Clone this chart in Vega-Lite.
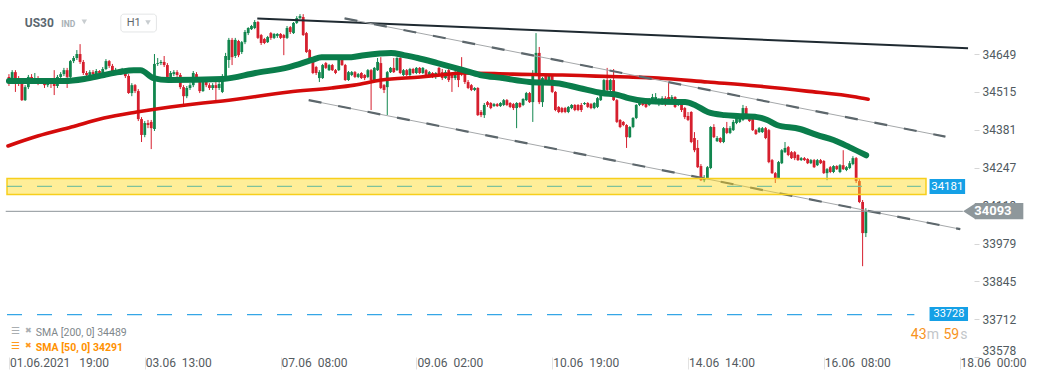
{
"$schema":"https://vega.github.io/schema/vega-lite/v6.json",
"width":974,"height":357,"padding":{"left":0,"top":0,"right":67,"bottom":23},"autosize":{"type":"none"},"background":"#ffffff",
"config":{"view":{"stroke":null},"font":"Roboto"},
"datasets":{
"candles":[
{"i":0,"o":34568,"h":34578,"l":34536,"c":34546},{"i":1,"o":34546,"h":34592,"l":34543,"c":34585},{"i":2,"o":34585,"h":34592,"l":34515,"c":34564},{"i":3,"o":34564,"h":34571,"l":34536,"c":34557},{"i":4,"o":34554,"h":34561,"l":34483,"c":34486},{"i":5,"o":34486,"h":34539,"l":34483,"c":34532},{"i":6,"o":34532,"h":34575,"l":34525,"c":34568},{"i":7,"o":34568,"h":34578,"l":34543,"c":34550},{"i":8,"o":34550,"h":34582,"l":34546,"c":34564},{"i":9,"o":34564,"h":34571,"l":34539,"c":34550},
{"i":10,"o":34550,"h":34564,"l":34543,"c":34557},{"i":11,"o":34557,"h":34564,"l":34529,"c":34539},{"i":12,"o":34539,"h":34557,"l":34532,"c":34546},{"i":13,"o":34546,"h":34557,"l":34529,"c":34543},{"i":14,"o":34543,"h":34592,"l":34504,"c":34536},{"i":15,"o":34536,"h":34575,"l":34529,"c":34568},{"i":16,"o":34568,"h":34585,"l":34557,"c":34578},{"i":17,"o":34578,"h":34600,"l":34571,"c":34592},{"i":18,"o":34592,"h":34600,"l":34529,"c":34568},{"i":19,"o":34568,"h":34628,"l":34561,"c":34624},
{"i":20,"o":34624,"h":34642,"l":34617,"c":34635},{"i":21,"o":34635,"h":34663,"l":34628,"c":34649},{"i":22,"o":34649,"h":34684,"l":34614,"c":34621},{"i":23,"o":34621,"h":34628,"l":34575,"c":34582},{"i":24,"o":34582,"h":34589,"l":34568,"c":34575},{"i":25,"o":34575,"h":34592,"l":34568,"c":34585},{"i":26,"o":34585,"h":34592,"l":34571,"c":34578},{"i":27,"o":34578,"h":34596,"l":34571,"c":34589},{"i":28,"o":34589,"h":34592,"l":34575,"c":34582},{"i":29,"o":34582,"h":34603,"l":34578,"c":34596},
{"i":30,"o":34596,"h":34631,"l":34592,"c":34624},{"i":31,"o":34624,"h":34628,"l":34600,"c":34607},{"i":32,"o":34607,"h":34614,"l":34575,"c":34582},{"i":33,"o":34582,"h":34600,"l":34575,"c":34592},{"i":34,"o":34592,"h":34596,"l":34578,"c":34585},{"i":35,"o":34585,"h":34600,"l":34582,"c":34592},{"i":36,"o":34589,"h":34596,"l":34564,"c":34571},{"i":37,"o":34571,"h":34578,"l":34508,"c":34511},{"i":38,"o":34511,"h":34546,"l":34500,"c":34539},{"i":39,"o":34539,"h":34543,"l":34511,"c":34518},
{"i":40,"o":34518,"h":34525,"l":34412,"c":34419},{"i":41,"o":34419,"h":34426,"l":34338,"c":34363},{"i":42,"o":34363,"h":34412,"l":34355,"c":34405},{"i":43,"o":34405,"h":34416,"l":34387,"c":34398},{"i":44,"o":34409,"h":34416,"l":34313,"c":34387},{"i":45,"o":34384,"h":34649,"l":34377,"c":34614},{"i":46,"o":34614,"h":34635,"l":34607,"c":34617},{"i":47,"o":34617,"h":34628,"l":34610,"c":34621},{"i":48,"o":34621,"h":34642,"l":34603,"c":34610},{"i":49,"o":34610,"h":34617,"l":34561,"c":34568},
{"i":50,"o":34568,"h":34589,"l":34561,"c":34582},{"i":51,"o":34578,"h":34592,"l":34571,"c":34585},{"i":52,"o":34585,"h":34592,"l":34568,"c":34575},{"i":53,"o":34575,"h":34582,"l":34525,"c":34532},{"i":54,"o":34532,"h":34539,"l":34469,"c":34500},{"i":55,"o":34500,"h":34536,"l":34493,"c":34529},{"i":56,"o":34529,"h":34546,"l":34522,"c":34539},{"i":57,"o":34539,"h":34589,"l":34532,"c":34582},{"i":58,"o":34578,"h":34585,"l":34550,"c":34557},{"i":59,"o":34557,"h":34564,"l":34511,"c":34518},
{"i":60,"o":34518,"h":34557,"l":34515,"c":34550},{"i":61,"o":34557,"h":34564,"l":34532,"c":34539},{"i":62,"o":34539,"h":34546,"l":34522,"c":34529},{"i":63,"o":34529,"h":34546,"l":34522,"c":34539},{"i":64,"o":34539,"h":34550,"l":34476,"c":34529},{"i":65,"o":34529,"h":34557,"l":34522,"c":34543},{"i":66,"o":34515,"h":34578,"l":34511,"c":34571},{"i":67,"o":34571,"h":34653,"l":34564,"c":34642},{"i":68,"o":34628,"h":34706,"l":34600,"c":34699},{"i":69,"o":34699,"h":34706,"l":34610,"c":34638},
{"i":70,"o":34642,"h":34706,"l":34635,"c":34699},{"i":71,"o":34695,"h":34699,"l":34638,"c":34645},{"i":72,"o":34656,"h":34695,"l":34649,"c":34691},{"i":73,"o":34691,"h":34734,"l":34684,"c":34727},{"i":74,"o":34723,"h":34744,"l":34716,"c":34741},{"i":75,"o":34737,"h":34752,"l":34734,"c":34748},{"i":76,"o":34741,"h":34769,"l":34737,"c":34762},{"i":77,"o":34762,"h":34766,"l":34702,"c":34706},{"i":78,"o":34716,"h":34720,"l":34681,"c":34688},{"i":79,"o":34702,"h":34706,"l":34684,"c":34688},
{"i":80,"o":34691,"h":34713,"l":34688,"c":34709},{"i":81,"o":34723,"h":34727,"l":34699,"c":34706},{"i":82,"o":34706,"h":34723,"l":34702,"c":34720},{"i":83,"o":34713,"h":34723,"l":34706,"c":34720},{"i":84,"o":34720,"h":34723,"l":34702,"c":34706},{"i":85,"o":34716,"h":34720,"l":34645,"c":34706},{"i":86,"o":34706,"h":34748,"l":34702,"c":34741},{"i":87,"o":34744,"h":34748,"l":34720,"c":34727},{"i":88,"o":34723,"h":34762,"l":34720,"c":34759},{"i":89,"o":34759,"h":34783,"l":34755,"c":34776},
{"i":90,"o":34776,"h":34790,"l":34773,"c":34783},{"i":91,"o":34780,"h":34790,"l":34713,"c":34716},{"i":92,"o":34723,"h":34727,"l":34653,"c":34656},{"i":93,"o":34663,"h":34667,"l":34631,"c":34635},{"i":94,"o":34635,"h":34638,"l":34578,"c":34582},{"i":95,"o":34603,"h":34607,"l":34575,"c":34582},{"i":96,"o":34564,"h":34592,"l":34550,"c":34585},{"i":97,"o":34564,"h":34614,"l":34561,"c":34610},{"i":98,"o":34617,"h":34621,"l":34596,"c":34600},{"i":99,"o":34592,"h":34614,"l":34589,"c":34610},
{"i":100,"o":34610,"h":34614,"l":34589,"c":34592},{"i":101,"o":34592,"h":34596,"l":34578,"c":34582},{"i":102,"o":34592,"h":34635,"l":34589,"c":34631},{"i":103,"o":34628,"h":34645,"l":34607,"c":34610},{"i":104,"o":34610,"h":34614,"l":34554,"c":34557},{"i":105,"o":34557,"h":34589,"l":34554,"c":34585},{"i":106,"o":34575,"h":34589,"l":34571,"c":34585},{"i":107,"o":34585,"h":34589,"l":34564,"c":34568},{"i":108,"o":34568,"h":34582,"l":34564,"c":34578},{"i":109,"o":34582,"h":34585,"l":34561,"c":34564},
{"i":110,"o":34575,"h":34578,"l":34557,"c":34564},{"i":111,"o":34568,"h":34596,"l":34564,"c":34592},{"i":112,"o":34592,"h":34596,"l":34451,"c":34557},{"i":113,"o":34557,"h":34603,"l":34554,"c":34600},{"i":114,"o":34592,"h":34635,"l":34589,"c":34621},{"i":115,"o":34617,"h":34638,"l":34525,"c":34529},{"i":116,"o":34539,"h":34543,"l":34511,"c":34522},{"i":117,"o":34532,"h":34589,"l":34433,"c":34585},{"i":118,"o":34585,"h":34603,"l":34582,"c":34600},{"i":119,"o":34600,"h":34635,"l":34582,"c":34585},
{"i":120,"o":34592,"h":34638,"l":34589,"c":34635},{"i":121,"o":34635,"h":34638,"l":34578,"c":34582},{"i":122,"o":34575,"h":34596,"l":34571,"c":34592},{"i":123,"o":34592,"h":34596,"l":34571,"c":34575},{"i":124,"o":34575,"h":34600,"l":34571,"c":34596},{"i":125,"o":34596,"h":34600,"l":34578,"c":34582},{"i":126,"o":34582,"h":34603,"l":34578,"c":34600},{"i":127,"o":34600,"h":34603,"l":34578,"c":34582},{"i":128,"o":34582,"h":34603,"l":34578,"c":34600},{"i":129,"o":34592,"h":34596,"l":34571,"c":34575},
{"i":130,"o":34575,"h":34589,"l":34571,"c":34585},{"i":131,"o":34582,"h":34585,"l":34564,"c":34568},{"i":132,"o":34568,"h":34585,"l":34561,"c":34582},{"i":133,"o":34600,"h":34603,"l":34571,"c":34575},{"i":134,"o":34585,"h":34596,"l":34557,"c":34564},{"i":135,"o":34564,"h":34592,"l":34561,"c":34585},{"i":136,"o":34592,"h":34614,"l":34550,"c":34557},{"i":137,"o":34575,"h":34582,"l":34515,"c":34564},{"i":138,"o":34564,"h":34592,"l":34557,"c":34585},{"i":139,"o":34592,"h":34600,"l":34532,"c":34557},
{"i":140,"o":34585,"h":34638,"l":34571,"c":34578},{"i":141,"o":34582,"h":34585,"l":34543,"c":34550},{"i":142,"o":34550,"h":34557,"l":34525,"c":34529},{"i":143,"o":34539,"h":34543,"l":34518,"c":34522},{"i":144,"o":34522,"h":34532,"l":34518,"c":34529},{"i":145,"o":34529,"h":34532,"l":34430,"c":34433},{"i":146,"o":34444,"h":34451,"l":34426,"c":34433},{"i":147,"o":34433,"h":34476,"l":34423,"c":34469},{"i":148,"o":34479,"h":34483,"l":34462,"c":34469},{"i":149,"o":34476,"h":34479,"l":34454,"c":34458},
{"i":150,"o":34465,"h":34476,"l":34462,"c":34472},{"i":151,"o":34472,"h":34476,"l":34462,"c":34465},{"i":152,"o":34465,"h":34479,"l":34462,"c":34476},{"i":153,"o":34469,"h":34490,"l":34465,"c":34486},{"i":154,"o":34486,"h":34490,"l":34465,"c":34469},{"i":155,"o":34476,"h":34479,"l":34458,"c":34462},{"i":156,"o":34472,"h":34476,"l":34451,"c":34458},{"i":157,"o":34458,"h":34479,"l":34387,"c":34476},{"i":158,"o":34476,"h":34479,"l":34458,"c":34462},{"i":159,"o":34469,"h":34493,"l":34465,"c":34490},
{"i":160,"o":34486,"h":34515,"l":34483,"c":34511},{"i":161,"o":34511,"h":34515,"l":34476,"c":34479},{"i":162,"o":34479,"h":34592,"l":34409,"c":34582},{"i":163,"o":34582,"h":34723,"l":34575,"c":34653},{"i":164,"o":34653,"h":34674,"l":34472,"c":34479},{"i":165,"o":34479,"h":34568,"l":34462,"c":34564},{"i":166,"o":34575,"h":34578,"l":34550,"c":34557},{"i":167,"o":34557,"h":34578,"l":34554,"c":34575},{"i":168,"o":34575,"h":34578,"l":34511,"c":34515},{"i":169,"o":34515,"h":34518,"l":34447,"c":34451},
{"i":170,"o":34462,"h":34465,"l":34440,"c":34444},{"i":171,"o":34458,"h":34462,"l":34440,"c":34444},{"i":172,"o":34458,"h":34462,"l":34440,"c":34444},{"i":173,"o":34444,"h":34465,"l":34440,"c":34462},{"i":174,"o":34458,"h":34472,"l":34454,"c":34469},{"i":175,"o":34469,"h":34472,"l":34447,"c":34451},{"i":176,"o":34469,"h":34472,"l":34447,"c":34451},{"i":177,"o":34469,"h":34476,"l":34444,"c":34451},{"i":178,"o":34472,"h":34479,"l":34469,"c":34476},{"i":179,"o":34476,"h":34479,"l":34458,"c":34462},
{"i":180,"o":34472,"h":34476,"l":34454,"c":34458},{"i":181,"o":34458,"h":34479,"l":34454,"c":34476},{"i":182,"o":34462,"h":34497,"l":34458,"c":34493},{"i":183,"o":34486,"h":34518,"l":34483,"c":34515},{"i":184,"o":34515,"h":34561,"l":34511,"c":34557},{"i":185,"o":34557,"h":34600,"l":34518,"c":34522},{"i":186,"o":34522,"h":34561,"l":34518,"c":34557},{"i":187,"o":34557,"h":34596,"l":34483,"c":34486},{"i":188,"o":34486,"h":34490,"l":34405,"c":34409},{"i":189,"o":34416,"h":34419,"l":34387,"c":34391},
{"i":190,"o":34409,"h":34412,"l":34394,"c":34398},{"i":191,"o":34398,"h":34401,"l":34317,"c":34355},{"i":192,"o":34355,"h":34394,"l":34352,"c":34391},{"i":193,"o":34391,"h":34426,"l":34387,"c":34423},{"i":194,"o":34423,"h":34472,"l":34419,"c":34469},{"i":195,"o":34469,"h":34490,"l":34465,"c":34486},{"i":196,"o":34486,"h":34490,"l":34465,"c":34469},{"i":197,"o":34479,"h":34483,"l":34458,"c":34462},{"i":198,"o":34469,"h":34493,"l":34465,"c":34490},{"i":199,"o":34486,"h":34508,"l":34483,"c":34497},
{"i":200,"o":34476,"h":34511,"l":34472,"c":34497},{"i":201,"o":34472,"h":34493,"l":34465,"c":34486},{"i":202,"o":34476,"h":34500,"l":34469,"c":34493},{"i":203,"o":34493,"h":34500,"l":34465,"c":34472},{"i":204,"o":34497,"h":34546,"l":34479,"c":34486},{"i":205,"o":34483,"h":34504,"l":34476,"c":34497},{"i":206,"o":34497,"h":34500,"l":34458,"c":34462},{"i":207,"o":34469,"h":34486,"l":34465,"c":34479},{"i":208,"o":34472,"h":34479,"l":34444,"c":34451},{"i":209,"o":34458,"h":34462,"l":34419,"c":34426},
{"i":210,"o":34430,"h":34444,"l":34412,"c":34416},{"i":211,"o":34444,"h":34447,"l":34334,"c":34338},{"i":212,"o":34352,"h":34373,"l":34302,"c":34309},{"i":213,"o":34317,"h":34345,"l":34246,"c":34249},{"i":214,"o":34253,"h":34260,"l":34200,"c":34203},{"i":215,"o":34203,"h":34221,"l":34196,"c":34210},{"i":216,"o":34210,"h":34253,"l":34207,"c":34249},{"i":217,"o":34246,"h":34394,"l":34242,"c":34391},{"i":218,"o":34391,"h":34401,"l":34352,"c":34355},{"i":219,"o":34341,"h":34359,"l":34338,"c":34352},
{"i":220,"o":34352,"h":34355,"l":34334,"c":34338},{"i":221,"o":34338,"h":34391,"l":34334,"c":34387},{"i":222,"o":34387,"h":34409,"l":34366,"c":34370},{"i":223,"o":34370,"h":34394,"l":34366,"c":34387},{"i":224,"o":34380,"h":34416,"l":34377,"c":34409},{"i":225,"o":34405,"h":34426,"l":34401,"c":34423},{"i":226,"o":34409,"h":34430,"l":34405,"c":34423},{"i":227,"o":34416,"h":34469,"l":34412,"c":34458},{"i":228,"o":34458,"h":34465,"l":34430,"c":34433},{"i":229,"o":34419,"h":34426,"l":34409,"c":34412},
{"i":230,"o":34419,"h":34423,"l":34377,"c":34380},{"i":231,"o":34380,"h":34384,"l":34363,"c":34366},{"i":232,"o":34373,"h":34391,"l":34370,"c":34387},{"i":233,"o":34373,"h":34391,"l":34370,"c":34387},{"i":234,"o":34387,"h":34391,"l":34348,"c":34352},{"i":235,"o":34380,"h":34384,"l":34263,"c":34267},{"i":236,"o":34274,"h":34278,"l":34225,"c":34228},{"i":237,"o":34228,"h":34232,"l":34193,"c":34210},{"i":238,"o":34210,"h":34271,"l":34207,"c":34267},{"i":239,"o":34263,"h":34313,"l":34260,"c":34309},
{"i":240,"o":34302,"h":34338,"l":34299,"c":34317},{"i":241,"o":34320,"h":34324,"l":34288,"c":34292},{"i":242,"o":34302,"h":34306,"l":34278,"c":34281},{"i":243,"o":34302,"h":34306,"l":34274,"c":34281},{"i":244,"o":34292,"h":34295,"l":34271,"c":34274},{"i":245,"o":34274,"h":34285,"l":34271,"c":34281},{"i":246,"o":34281,"h":34285,"l":34271,"c":34274},{"i":247,"o":34278,"h":34281,"l":34260,"c":34263},{"i":248,"o":34263,"h":34278,"l":34260,"c":34274},{"i":249,"o":34274,"h":34278,"l":34246,"c":34249},
{"i":250,"o":34256,"h":34278,"l":34253,"c":34274},{"i":251,"o":34274,"h":34278,"l":34260,"c":34263},{"i":252,"o":34271,"h":34274,"l":34225,"c":34228},{"i":253,"o":34228,"h":34246,"l":34203,"c":34242},{"i":254,"o":34249,"h":34253,"l":34228,"c":34232},{"i":255,"o":34232,"h":34256,"l":34228,"c":34253},{"i":256,"o":34253,"h":34256,"l":34239,"c":34242},{"i":257,"o":34232,"h":34260,"l":34228,"c":34256},{"i":258,"o":34256,"h":34309,"l":34239,"c":34242},{"i":259,"o":34239,"h":34253,"l":34235,"c":34249},
{"i":260,"o":34246,"h":34271,"l":34242,"c":34263},{"i":261,"o":34260,"h":34288,"l":34256,"c":34281},{"i":262,"o":34281,"h":34285,"l":34193,"c":34200},{"i":263,"o":34200,"h":34207,"l":34122,"c":34126},{"i":264,"o":34126,"h":34133,"l":33899,"c":34016},{"i":265,"o":34016,"h":34104,"l":34002,"c":34093}
],
"sma50":[
{"i":0,"p":34554},{"i":17.1,"p":34554},{"i":23.3,"p":34561},{"i":29.4,"p":34575},{"i":34,"p":34585},{"i":38.6,"p":34592},{"i":40.7,"p":34592},{"i":44.7,"p":34564},{"i":49.3,"p":34557},{"i":66.1,"p":34561},{"i":76.2,"p":34582},{"i":86.6,"p":34603},{"i":93.7,"p":34628},{"i":96.7,"p":34638},{"i":105.9,"p":34638},{"i":109.9,"p":34645},{"i":118.2,"p":34653},{"i":122.1,"p":34645},{"i":126.4,"p":34635},{"i":132.5,"p":34617},{"i":140.5,"p":34592},{"i":145.7,"p":34575},{"i":152.7,"p":34564},{"i":161,"p":34550},{"i":169.3,"p":34546},{"i":176.3,"p":34529},{"i":183.3,"p":34511},{"i":188.5,"p":34504},{"i":191.6,"p":34493},{"i":196.8,"p":34483},{"i":206.9,"p":34479},{"i":209.1,"p":34479},{"i":212.1,"p":34469},{"i":216.1,"p":34444},{"i":221.3,"p":34433},{"i":225.3,"p":34430},{"i":231.4,"p":34426},{"i":234.5,"p":34416},{"i":237.5,"p":34398},{"i":244.6,"p":34384},{"i":249.8,"p":34363},{"i":255,"p":34345},{"i":259.9,"p":34320},{"i":265.1,"p":34291}
],
"sma200":[
{"i":-0.3,"p":34324},{"i":8.9,"p":34359},{"i":19.3,"p":34391},{"i":29.4,"p":34423},{"i":39.5,"p":34444},{"i":49.9,"p":34462},{"i":60,"p":34476},{"i":66.1,"p":34483},{"i":86.6,"p":34515},{"i":99.8,"p":34529},{"i":106.8,"p":34539},{"i":115.1,"p":34557},{"i":127.3,"p":34568},{"i":133.5,"p":34575},{"i":140.5,"p":34582},{"i":155.8,"p":34578},{"i":171.1,"p":34575},{"i":181.5,"p":34571},{"i":191.6,"p":34568},{"i":200.8,"p":34564},{"i":216.1,"p":34550},{"i":231.4,"p":34536},{"i":246.7,"p":34518},{"i":262,"p":34497},{"i":265.7,"p":34489}
],
"chan":[
{"g":"upper","i":103.8,"p":34775},{"g":"upper","i":289.6,"p":34357},{"g":"lower","i":92.7,"p":34486},{"g":"lower","i":294.2,"p":34030}
],
"top":[{"i":76.8,"p":34775},{"i":296.6,"p":34669}]
},
"layer":[
{"data":{"name":"candles"},"mark":{"type":"rule","strokeWidth":1},
 "encoding":{
  "x":{"field":"i","type":"quantitative","scale":{"domain":[-1.22,296.9],"nice":false,"zero":false},
   "axis":{"title":null,"values":[0,42,84,126,168,210,252,294],"grid":false,"domain":false,"ticks":true,"tickSize":12,"tickColor":"#e2e2e2","labelAlign":"left","labelOffset":0.5,"labelPadding":-7,"labelBaseline":"middle","labelFont":"Roboto","labelFontSize":12,"labelColor":"#555b60","labelFlush":false,"labelOverlap":false,
   "labelExpr":"datum.value==0?'01.06.2021\u00a0\u00a0\u00a019:00':datum.value==42?'03.06\u00a0\u00a013:00':datum.value==84?'07.06\u00a0\u00a008:00':datum.value==126?'09.06\u00a0\u00a002:00':datum.value==168?'10.06\u00a0\u00a019:00':datum.value==210?'14.06\u00a0\u00a014:00':datum.value==252?'16.06\u00a0\u00a008:00':'18.06\u00a0\u00a000:00'"}},
  "y":{"field":"l","type":"quantitative","scale":{"domain":[33578,34840],"nice":false,"zero":false},
   "axis":{"title":null,"orient":"right","format":"d","values":[34649,34515,34381,34247,34113,33979,33845,33712,33578],"grid":false,"domain":false,"tickSize":5,"tickColor":"#d6d6d6","labelPadding":3,"labelFont":"Roboto","labelFontSize":12,"labelColor":"#505a60","labelFlush":true,"labelOverlap":false}},
  "y2":{"field":"h"},
  "color":{"condition":{"test":"datum.c >= datum.o","value":"#11864e"},"value":"#d61f2e"}}},
{"data":{"name":"candles"},"mark":{"type":"bar","size":2.8},
 "encoding":{"x":{"field":"i","type":"quantitative"},"y":{"field":"o","type":"quantitative"},"y2":{"field":"c"},
  "color":{"condition":{"test":"datum.c >= datum.o","value":"#11864e"},"value":"#d61f2e"}}},
{"data":{"name":"sma200"},"mark":{"type":"line","color":"#d40b0b","strokeWidth":3.6,"strokeCap":"round","interpolate":"monotone"},
 "encoding":{"x":{"field":"i","type":"quantitative"},"y":{"field":"p","type":"quantitative"}}},
{"data":{"name":"sma50"},"mark":{"type":"line","color":"#0a7d4b","strokeWidth":6,"strokeCap":"round","interpolate":"monotone"},
 "encoding":{"x":{"field":"i","type":"quantitative"},"y":{"field":"p","type":"quantitative"}}},
{"data":{"name":"top"},"mark":{"type":"line","color":"#1f2a31","strokeWidth":2},
 "encoding":{"x":{"field":"i","type":"quantitative"},"y":{"field":"p","type":"quantitative"}}},
{"data":{"name":"chan"},"mark":{"type":"line","color":"#a5a8aa","strokeWidth":1},
 "encoding":{"x":{"field":"i","type":"quantitative"},"y":{"field":"p","type":"quantitative"},"detail":{"field":"g"}}},
{"data":{"name":"chan"},"mark":{"type":"line","color":"#5d676c","strokeWidth":2.2,"strokeDash":[13,17]},
 "encoding":{"x":{"field":"i","type":"quantitative"},"y":{"field":"p","type":"quantitative"},"detail":{"field":"g"}}},
{"data":{"values":[{}]},"mark":{"type":"rect","fill":"#ffd91a","fillOpacity":0.45,"stroke":"#f7cf1c","strokeWidth":1.5},
 "encoding":{"x":{"datum":-0.6,"type":"quantitative"},"x2":{"datum":283.6},"y":{"datum":34209,"type":"quantitative"},"y2":{"datum":34152}}},
{"data":{"values":[{}]},"mark":{"type":"rule","color":"#7fc29b","strokeWidth":1.3,"strokeDash":[15,15]},
 "encoding":{"x":{"datum":-0.6,"type":"quantitative"},"x2":{"datum":282},"y":{"datum":34181,"type":"quantitative"}}},
{"data":{"values":[{}]},"mark":{"type":"rule","color":"#35a6e6","strokeWidth":1.3,"strokeDash":[15,15]},
 "encoding":{"x":{"datum":-0.6,"type":"quantitative"},"x2":{"datum":280},"y":{"datum":33728,"type":"quantitative"}}},
{"data":{"values":[{}]},"mark":{"type":"rule","color":"#8c9498","strokeWidth":1},
 "encoding":{"x":{"datum":-1,"type":"quantitative"},"x2":{"datum":295},"y":{"datum":34093,"type":"quantitative"}}},
{"data":{"values":[{}]},"mark":{"type":"rect","fill":"#15a0e6"},
 "encoding":{"x":{"datum":284.7,"type":"quantitative"},"x2":{"datum":295.7},"y":{"datum":34207,"type":"quantitative"},"y2":{"datum":34154}}},
{"data":{"values":[{}]},"mark":{"type":"text","text":"34181","fill":"#ffffff","font":"Roboto","fontSize":11.5,"align":"center","baseline":"middle"},
 "encoding":{"x":{"datum":290.2,"type":"quantitative"},"y":{"datum":34180,"type":"quantitative"}}},
{"data":{"values":[{}]},"mark":{"type":"rect","fill":"#15a0e6"},
 "encoding":{"x":{"datum":284.7,"type":"quantitative"},"x2":{"datum":296.6},"y":{"datum":33755,"type":"quantitative"},"y2":{"datum":33705}}},
{"data":{"values":[{}]},"mark":{"type":"text","text":"33728","fill":"#ffffff","font":"Roboto","fontSize":11,"align":"center","baseline":"middle"},
 "encoding":{"x":{"datum":290.7,"type":"quantitative"},"y":{"datum":33729,"type":"quantitative"}}},
{"data":{"values":[{}]},"mark":{"type":"rect","fill":"#8e979b"},
 "encoding":{"x":{"datum":298.7,"type":"quantitative"},"x2":{"datum":313.7},"y":{"datum":34122,"type":"quantitative"},"y2":{"datum":34065}}},
{"data":{"values":[{}]},"mark":{"type":"point","shape":"M -1.5 0 L 0.05 -1 L 0.05 1 Z","size":256,"filled":true,"fill":"#8e979b","opacity":1,"strokeWidth":0},
 "encoding":{"x":{"datum":298.8,"type":"quantitative"},"y":{"datum":34093.5,"type":"quantitative"}}},
{"data":{"values":[{}]},"mark":{"type":"text","text":"34093","fill":"#ffffff","font":"Roboto","fontSize":13,"fontWeight":"bold","align":"center","baseline":"middle"},
 "encoding":{"x":{"datum":304.3,"type":"quantitative"},"y":{"datum":34094,"type":"quantitative"}}},
{"data":{"values":[{}]},"mark":{"type":"text","text":"43","fill":"#f7931e","font":"Roboto","fontSize":14,"align":"left","baseline":"middle"},
 "encoding":{"x":{"datum":278.9,"type":"quantitative"},"y":{"datum":33655,"type":"quantitative"}}},
{"data":{"values":[{}]},"mark":{"type":"text","text":"m","fill":"#c2c6c9","font":"Roboto","fontSize":14,"align":"left","baseline":"middle"},
 "encoding":{"x":{"datum":283.8,"type":"quantitative"},"y":{"datum":33655,"type":"quantitative"}}},
{"data":{"values":[{}]},"mark":{"type":"text","text":"59","fill":"#f7931e","font":"Roboto","fontSize":14,"align":"left","baseline":"middle"},
 "encoding":{"x":{"datum":289,"type":"quantitative"},"y":{"datum":33655,"type":"quantitative"}}},
{"data":{"values":[{}]},"mark":{"type":"text","text":"s","fill":"#c2c6c9","font":"Roboto","fontSize":14,"align":"left","baseline":"middle"},
 "encoding":{"x":{"datum":294.2,"type":"quantitative"},"y":{"datum":33655,"type":"quantitative"}}},
{"data":{"values":[{}]},"mark":{"type":"text","text":"US30","fill":"#5b6770","font":"Roboto","fontSize":12,"fontWeight":"bold","align":"left","baseline":"middle"},
 "encoding":{"x":{"datum":4.9,"type":"quantitative"},"y":{"datum":34759,"type":"quantitative"}}},
{"data":{"values":[{}]},"mark":{"type":"text","text":"IND","fill":"#a8b0b5","font":"Roboto","fontSize":8.5,"fontWeight":"bold","align":"left","baseline":"middle"},
 "encoding":{"x":{"datum":16.2,"type":"quantitative"},"y":{"datum":34755,"type":"quantitative"}}},
{"data":{"values":[{}]},"mark":{"type":"point","shape":"triangle-down","size":30,"filled":true,"fill":"#c8cdd0","opacity":1},
 "encoding":{"x":{"datum":23.3,"type":"quantitative"},"y":{"datum":34763,"type":"quantitative"}}},
{"data":{"values":[{}]},"mark":{"type":"rect","fill":"#ffffff","stroke":"#e3e5e6","strokeWidth":1,"cornerRadius":3},
 "encoding":{"x":{"datum":34.6,"type":"quantitative"},"x2":{"datum":45.6},"y":{"datum":34790,"type":"quantitative"},"y2":{"datum":34727}}},
{"data":{"values":[{}]},"mark":{"type":"text","text":"H1","fill":"#60686d","font":"Roboto","fontSize":11,"align":"left","baseline":"middle"},
 "encoding":{"x":{"datum":36.4,"type":"quantitative"},"y":{"datum":34759,"type":"quantitative"}}},
{"data":{"values":[{}]},"mark":{"type":"point","shape":"triangle-down","size":30,"filled":true,"fill":"#c8cdd0","opacity":1},
 "encoding":{"x":{"datum":43,"type":"quantitative"},"y":{"datum":34760,"type":"quantitative"}}},
{"data":{"values":[{}]},"mark":{"type":"text","text":"☰","fill":"#a9aeb1","font":"DejaVu Sans","fontSize":10,"align":"center","baseline":"middle"},
 "encoding":{"x":{"datum":2,"type":"quantitative"},"y":{"datum":33669,"type":"quantitative"}}},
{"data":{"values":[{}]},"mark":{"type":"text","text":"✖","fill":"#a9aeb1","font":"DejaVu Sans","fontSize":8,"align":"center","baseline":"middle"},
 "encoding":{"x":{"datum":6,"type":"quantitative"},"y":{"datum":33669,"type":"quantitative"}}},
{"data":{"values":[{}]},"mark":{"type":"text","text":"SMA [200, 0] 34489","fill":"#80878b","font":"Roboto","fontSize":10.5,"align":"left","baseline":"middle"},
 "encoding":{"x":{"datum":8.3,"type":"quantitative"},"y":{"datum":33662,"type":"quantitative"}}},
{"data":{"values":[{}]},"mark":{"type":"text","text":"☰","fill":"#ff9a1f","font":"DejaVu Sans","fontSize":10,"align":"center","baseline":"middle"},
 "encoding":{"x":{"datum":2,"type":"quantitative"},"y":{"datum":33617,"type":"quantitative"}}},
{"data":{"values":[{}]},"mark":{"type":"text","text":"✖","fill":"#ff9a1f","font":"DejaVu Sans","fontSize":8,"align":"center","baseline":"middle"},
 "encoding":{"x":{"datum":6,"type":"quantitative"},"y":{"datum":33617,"type":"quantitative"}}},
{"data":{"values":[{}]},"mark":{"type":"text","text":"SMA [50, 0] 34291","fill":"#ff9100","font":"Roboto","fontSize":10.5,"fontWeight":"bold","align":"left","baseline":"middle"},
 "encoding":{"x":{"datum":8.3,"type":"quantitative"},"y":{"datum":33610,"type":"quantitative"}}}
]
}
